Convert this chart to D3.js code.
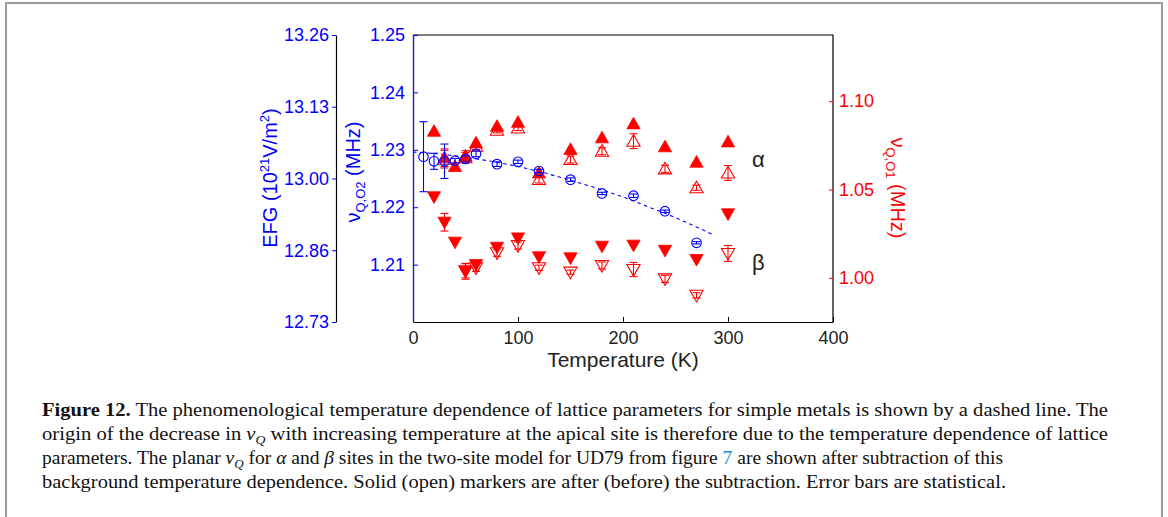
<!DOCTYPE html>
<html>
<head>
<meta charset="utf-8">
<script src="https://cdn.jsdelivr.net/npm/d3@7"></script>
<style>
  body { margin: 0; background: #fff; }
  svg { display: block; }
</style>
</head>
<body>
<svg id="chart" width="1168" height="517"></svg>
<script>
// --- data ---
// blue circles: apical site nu_Q,O2 (left axis)
var tempO2 = [10, 20, 30, 40, 50, 60, 80, 100, 120, 150, 180, 210, 240, 270];
var nuO2 = [1.2288, 1.2280, 1.2280, 1.2281, 1.2284, 1.2293, 1.2275, 1.2279, 1.2263, 1.2248, 1.2224, 1.2220, 1.2193, 1.2138];
var errO2 = [0.0061, 0.0014, 0.0030, 0.0004, 0.0005, 0.0005, 0.0004, 0.0003, 0.0003, 0.0003, 0.0002, 0.0003, 0.0002, 0.0002];

// dashed phenomenological line (left axis)
var tempFit = [0, 25, 50, 75, 100, 125, 150, 175, 200, 225, 250, 285];
var nuFit = [1.2296, 1.2293, 1.2287, 1.2280, 1.2271, 1.2260, 1.2247, 1.2233, 1.2218, 1.2200, 1.2182, 1.2153];

// red: planar nu_Q,O1 (right axis)
var tempAlphaSolid = [20, 30, 40, 50, 60, 80, 100, 120, 150, 180, 210, 240, 270, 300];
var alphaSolid = [1.0830, 1.0680, 1.0630, 1.0690, 1.0764, 1.0858, 1.0881, 1.0594, 1.0727, 1.0793, 1.0872, 1.0742, 1.0655, 1.0770];
var alphaSolidErr = [0, 0.005, 0, 0.003, 0, 0, 0, 0, 0, 0, 0, 0, 0, 0];

var tempAlphaOpen = [30, 50, 60, 80, 100, 120, 150, 180, 210, 240, 270, 300];
var alphaOpen = [1.0672, 1.0680, 1.0745, 1.0836, 1.0849, 1.0557, 1.0670, 1.0717, 1.0774, 1.0617, 1.0510, 1.0594];
var alphaOpenErr = [0.005, 0.003, 0.002, 0.0015, 0.0015, 0.002, 0.002, 0.002, 0.0042, 0.002, 0.0015, 0.0042];

var tempBetaSolid = [20, 30, 40, 50, 60, 80, 100, 120, 150, 180, 210, 240, 270, 300];
var betaSolid = [1.0459, 1.0315, 1.0202, 1.0037, 1.0075, 1.0173, 1.0226, 1.0119, 1.0113, 1.0179, 1.0185, 1.0156, 1.0104, 1.0362];
var betaSolidErr = [0, 0.005, 0, 0.0045, 0, 0, 0, 0, 0, 0, 0, 0, 0, 0];

var tempBetaOpen = [50, 60, 80, 100, 120, 150, 180, 210, 240, 270, 300];
var betaOpen = [1.0040, 1.0057, 1.0142, 1.0183, 1.0057, 1.0032, 1.0070, 1.0047, 0.9994, 0.9901, 1.0138];
var betaOpenErr = [0.004, 0.002, 0.002, 0.002, 0.0015, 0.0012, 0.002, 0.004, 0.002, 0.0015, 0.0045];

// ticks
var xTicks = [0, 100, 200, 300, 400];
var leftTicks = [1.21, 1.22, 1.23, 1.24, 1.25];
var rightTicks = [1.00, 1.05, 1.10];
var efgTickLabels = ["12.73", "12.86", "13.00", "13.13", "13.26"];

var BLUE = "#0000ff", RED = "#ff0000", INK = "#222";

var svg = d3.select("#chart");

// frame of the figure
svg.append("path")
  .attr("d", "M6,517 V3 H1162 V517")
  .attr("fill", "none").attr("stroke", "#9a9a9a").attr("stroke-width", 2);

// plot box
var pLeft = 413, pRight = 833, pTop = 35, pBottom = 322;

var x = d3.scaleLinear().domain([0, 400]).range([pLeft, pRight]);
var yL = d3.scaleLinear().domain([1.20, 1.25]).range([pBottom, pTop]);
var yR = d3.scaleLinear().domain([0.975, 1.1375]).range([pBottom, pTop]);
var yE = d3.scaleLinear().domain([0, efgTickLabels.length - 1]).range([pBottom, pTop]);

var font = "Helvetica, Arial, 'Liberation Sans', sans-serif";

// x axis (ticks inside)
var gx = svg.append("g").attr("transform", "translate(0," + pBottom + ")")
  .call(d3.axisBottom(x).tickValues(xTicks).tickSizeInner(-5).tickSizeOuter(0).tickPadding(9));
gx.select(".domain").attr("stroke", "#000").attr("stroke-width", 1.2);
gx.selectAll(".tick line").attr("stroke", "#000");
gx.selectAll(".tick text").attr("font-family", font).attr("font-size", 18).attr("fill", INK);

// top and right border
svg.append("path")
  .attr("d", "M" + pLeft + "," + pTop + " H" + pRight + " V" + pBottom)
  .attr("fill", "none").attr("stroke", "#000").attr("stroke-width", 1.2);

// left axis nu_Q,O2 (blue)
var gl = svg.append("g").attr("transform", "translate(" + pLeft + ",0)")
  .call(d3.axisLeft(yL).tickValues(leftTicks).tickFormat(d3.format(".2f")).tickSizeInner(-5).tickSizeOuter(0).tickPadding(8));
gl.select(".domain").attr("stroke", "#22229a").attr("stroke-width", 1.4);
gl.selectAll(".tick line").attr("stroke", BLUE);
gl.selectAll(".tick text").attr("font-family", font).attr("font-size", 18).attr("fill", BLUE);

// right axis nu_Q,O1 (red)
var gr = svg.append("g").attr("transform", "translate(" + pRight + ",0)")
  .call(d3.axisRight(yR).tickValues(rightTicks).tickFormat(d3.format(".2f")).tickSizeInner(-4).tickSizeOuter(0).tickPadding(6));
gr.select(".domain").remove();
gr.selectAll(".tick line").attr("stroke", RED);
gr.selectAll(".tick text").attr("font-family", font).attr("font-size", 18).attr("fill", RED);

// EFG axis
var ge = svg.append("g").attr("transform", "translate(336,0)")
  .call(d3.axisLeft(yE).tickValues(d3.range(efgTickLabels.length)).tickFormat(function (i) { return efgTickLabels[i]; })
    .tickSizeInner(4).tickSizeOuter(0).tickPadding(3));
ge.select(".domain").attr("stroke", "#000").attr("stroke-width", 1.2);
ge.selectAll(".tick line").attr("stroke", BLUE);
ge.selectAll(".tick text").attr("font-family", font).attr("font-size", 18).attr("fill", BLUE);

// axis titles
svg.append("text")
  .attr("x", (pLeft + pRight) / 2).attr("y", 367)
  .attr("text-anchor", "middle").attr("font-family", font).attr("font-size", 21).attr("fill", INK)
  .text("Temperature (K)");

var efgTitle = svg.append("text")
  .attr("transform", "translate(277,178) rotate(-90)")
  .attr("text-anchor", "middle").attr("font-family", font).attr("font-size", 20).attr("fill", BLUE);
efgTitle.append("tspan").text("EFG (10");
efgTitle.append("tspan").attr("font-size", 13).attr("dy", -8).text("21");
efgTitle.append("tspan").attr("dy", 8).text("V/m");
efgTitle.append("tspan").attr("font-size", 13).attr("dy", -8).text("2");
efgTitle.append("tspan").attr("dy", 8).text(")");

var o2Title = svg.append("text")
  .attr("transform", "translate(360,172) rotate(-90)")
  .attr("text-anchor", "middle").attr("font-family", font).attr("font-size", 20).attr("fill", BLUE);
o2Title.append("tspan").text("ν");
o2Title.append("tspan").attr("font-size", 13).attr("dy", 5).text("Q,O2");
o2Title.append("tspan").attr("dy", -5).text(" (MHz)");

var o1Title = svg.append("text")
  .attr("transform", "translate(891,188) rotate(90)")
  .attr("text-anchor", "middle").attr("font-family", font).attr("font-size", 20).attr("fill", RED);
o1Title.append("tspan").text("ν");
o1Title.append("tspan").attr("font-size", 13).attr("dy", 5).text("Q,O1");
o1Title.append("tspan").attr("dy", -5).text(" (MHz)");

// dashed line
var fitPts = tempFit.map(function (t, i) { return [t, nuFit[i]]; });
svg.append("path")
  .datum(fitPts)
  .attr("fill", "none").attr("stroke", BLUE).attr("stroke-width", 1.1)
  .attr("stroke-dasharray", "3.5,3.5")
  .attr("d", d3.line().x(function (d) { return x(d[0]); }).y(function (d) { return yL(d[1]); }));

// marker shapes
function triUp(s) { return "M0," + (-s * 0.55) + " L" + (s * 0.55) + "," + (s * 0.42) + " L" + (-s * 0.55) + "," + (s * 0.42) + "Z"; }
function triDown(s) { return "M0," + (s * 0.55) + " L" + (s * 0.55) + "," + (-s * 0.42) + " L" + (-s * 0.55) + "," + (-s * 0.42) + "Z"; }

function errorBars(temps, vals, errs, yScale, color) {
  var g = svg.append("g").attr("stroke", color).attr("stroke-width", 1.1).attr("fill", "none");
  temps.forEach(function (t, i) {
    if (!errs[i]) return;
    var cx = x(t), y1 = yScale(vals[i] - errs[i]), y2 = yScale(vals[i] + errs[i]);
    g.append("line").attr("x1", cx).attr("x2", cx).attr("y1", y1).attr("y2", y2);
    g.append("line").attr("x1", cx - 4).attr("x2", cx + 4).attr("y1", y1).attr("y2", y1);
    g.append("line").attr("x1", cx - 4).attr("x2", cx + 4).attr("y1", y2).attr("y2", y2);
  });
}

function markers(temps, vals, yScale, shape, solid, color) {
  svg.append("g").selectAll("path")
    .data(temps.map(function (t, i) { return [t, vals[i]]; }))
    .enter().append("path")
    .attr("transform", function (d) { return "translate(" + x(d[0]) + "," + yScale(d[1]) + ")"; })
    .attr("d", shape(12))
    .attr("fill", solid ? color : "none")
    .attr("stroke", color).attr("stroke-width", solid ? 0.8 : 1.1);
}

// open (before subtraction)
markers(tempAlphaOpen, alphaOpen, yR, triUp, false, RED);
errorBars(tempAlphaOpen, alphaOpen, alphaOpenErr, yR, RED);
markers(tempBetaOpen, betaOpen, yR, triDown, false, RED);
errorBars(tempBetaOpen, betaOpen, betaOpenErr, yR, RED);

// solid (after subtraction)
markers(tempAlphaSolid, alphaSolid, yR, triUp, true, RED);
errorBars(tempAlphaSolid, alphaSolid, alphaSolidErr, yR, RED);
markers(tempBetaSolid, betaSolid, yR, triDown, true, RED);
errorBars(tempBetaSolid, betaSolid, betaSolidErr, yR, RED);

// blue circles
svg.append("g").selectAll("circle")
  .data(tempO2.map(function (t, i) { return [t, nuO2[i]]; }))
  .enter().append("circle")
  .attr("cx", function (d) { return x(d[0]); })
  .attr("cy", function (d) { return yL(d[1]); })
  .attr("r", 4.8)
  .attr("fill", "none").attr("stroke", BLUE).attr("stroke-width", 1.1);
errorBars(tempO2, nuO2, errO2, yL, BLUE);

// site labels
svg.append("text").attr("x", 752).attr("y", 167).attr("font-family", font).attr("font-size", 22).attr("fill", INK).text("α");
svg.append("text").attr("x", 752).attr("y", 270).attr("font-family", font).attr("font-size", 22).attr("fill", INK).text("β");

// caption
var serif = "'Liberation Serif', 'Times New Roman', serif";
var cap = svg.append("g").attr("font-family", serif).attr("font-size", 18).attr("fill", "#111");

function capLine(y, width) {
  return cap.append("text").attr("x", 42).attr("y", y)
    .attr("textLength", width).attr("lengthAdjust", "spacingAndGlyphs");
}
// italic nu with subscript Q; returns the dy needed to get back on the baseline
function nuQ(t) {
  t.append("tspan").attr("font-style", "italic").text("ν");
  t.append("tspan").attr("font-style", "italic").attr("font-size", 12).attr("dy", 4).text("Q");
  return -4;
}

var l1 = capLine(416, 1066);
l1.append("tspan").attr("font-weight", "bold").text("Figure 12.");
l1.append("tspan").text(" The phenomenological temperature dependence of lattice parameters for simple metals is shown by a dashed line. The");

var l2 = capLine(440, 1066);
l2.append("tspan").text("origin of the decrease in ");
var back = nuQ(l2);
l2.append("tspan").attr("dy", back).text(" with increasing temperature at the apical site is therefore due to the temperature dependence of lattice");

var l3 = capLine(464, 961);
l3.append("tspan").text("parameters. The planar ");
back = nuQ(l3);
l3.append("tspan").attr("dy", back).text(" for ");
l3.append("tspan").attr("font-style", "italic").text("α");
l3.append("tspan").text(" and ");
l3.append("tspan").attr("font-style", "italic").text("β");
l3.append("tspan").text(" sites in the two-site model for UD79 from figure ");
l3.append("tspan").attr("fill", "#1b8fd0").text("7");
l3.append("tspan").text(" are shown after subtraction of this");

var l4 = capLine(488, 964);
l4.append("tspan").text("background temperature dependence. Solid (open) markers are after (before) the subtraction. Error bars are statistical.");
</script>
</body>
</html>
